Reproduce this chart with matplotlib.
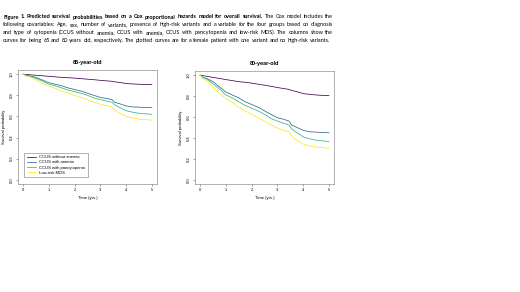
import numpy as np
import matplotlib.pyplot as plt

# time grid (years)
times = [0, 0.1, 0.25, 0.5, 0.75, 1.0, 1.25, 1.5, 1.75, 2.0, 2.25, 2.5, 2.75,
         3.0, 3.25, 3.45, 3.55, 3.75, 4.0, 4.25, 4.5, 4.75, 5.0]

groups = ["CCUS without anemia", "CCUS with anemia", "CCUS with pancytopenia", "Low-risk MDS"]
colors = ["#440154", "#31688e", "#35b779", "#fde725"]

# 65-year-old
s65_no_anemia = [1, 0.998, 0.995, 0.99, 0.985, 0.98, 0.975, 0.97, 0.967, 0.963, 0.958, 0.953, 0.948,
                 0.942, 0.937, 0.933, 0.928, 0.922, 0.912, 0.908, 0.905, 0.903, 0.902]
s65_anemia = [1, 0.99, 0.985, 0.97, 0.945, 0.92, 0.905, 0.89, 0.87, 0.855, 0.84, 0.82, 0.80,
              0.78, 0.77, 0.76, 0.735, 0.72, 0.70, 0.69, 0.688, 0.685, 0.683]
s65_pancyto = [1, 0.99, 0.982, 0.96, 0.935, 0.905, 0.89, 0.87, 0.85, 0.835, 0.82, 0.80, 0.775,
               0.76, 0.745, 0.735, 0.71, 0.685, 0.655, 0.64, 0.63, 0.625, 0.62]
s65_mds = [1, 0.985, 0.975, 0.945, 0.915, 0.885, 0.865, 0.84, 0.82, 0.80, 0.78, 0.76, 0.735,
           0.715, 0.70, 0.69, 0.66, 0.63, 0.60, 0.585, 0.575, 0.57, 0.565]

# 80-year-old
s80_no_anemia = [1, 0.996, 0.99, 0.979, 0.969, 0.958, 0.948, 0.938, 0.932, 0.924, 0.914, 0.904, 0.894,
                 0.882, 0.872, 0.864, 0.855, 0.843, 0.824, 0.817, 0.811, 0.807, 0.805]
s80_anemia = [1, 0.979, 0.969, 0.938, 0.888, 0.839, 0.811, 0.783, 0.746, 0.72, 0.694, 0.659, 0.626,
              0.594, 0.578, 0.562, 0.524, 0.502, 0.473, 0.459, 0.456, 0.452, 0.449]
s80_pancyto = [1, 0.979, 0.963, 0.918, 0.869, 0.811, 0.783, 0.746, 0.711, 0.685, 0.659, 0.626, 0.586,
               0.562, 0.539, 0.524, 0.487, 0.452, 0.411, 0.392, 0.379, 0.373, 0.366]
s80_mds = [1, 0.969, 0.948, 0.888, 0.83, 0.774, 0.738, 0.694, 0.659, 0.626, 0.594, 0.562, 0.524,
           0.494, 0.473, 0.459, 0.418, 0.379, 0.342, 0.324, 0.313, 0.307, 0.302]

panels = [("65-year-old", [s65_no_anemia, s65_anemia, s65_pancyto, s65_mds]),
          ("80-year-old", [s80_no_anemia, s80_anemia, s80_pancyto, s80_mds])]

caption_bold = "Figure 1. Predicted survival probabilities based on a Cox proportional hazards model for overall survival."
caption_lines = ["The Cox model includes the",
                 "following covariables: Age, sex, number of variants, presence of high-risk variants and a variable for the four groups based on diagnosis",
                 "and type of cytopenia (CCUS without anemia, CCUS with anemia, CCUS with pancytopenia and low-risk MDS). The columns show the",
                 "curves for being 65 and 80 years old, respectively. The plotted curves are for a female patient with one variant and no high-risk variants."]

W, H = 520, 292
fig = plt.figure(figsize=(W / 100, H / 100), dpi=100)
renderer = fig.canvas.get_renderer()

cap_font = ['Lato', 'DejaVu Sans']
left_px, right_px = 3, 333
top_px, step_px = 17, 7.7


def text_w(s, fs, bold=False):
    t = fig.text(0, 0, s, fontsize=fs, family=cap_font, fontweight='bold' if bold else 'normal')
    w = t.get_window_extent(renderer).width
    t.remove()
    return w


# size the caption so the last (not justified) line spans the same width as the reference
cap_fs = 4 * (right_px - 2 - left_px) / text_w(caption_lines[3], 4)


def put_line(bold_words, words, y, justify):
    # right end of every word measured from the whole prefix, then spread for justification
    ends = []
    for j in range(len(bold_words)):
        ends.append(text_w(" ".join(bold_words[:j + 1]), cap_fs, True))
    wb = ends[-1] if ends else 0
    for k in range(len(words)):
        if bold_words:
            ends.append(wb + text_w("i " + " ".join(words[:k + 1]), cap_fs) - text_w("i", cap_fs))
        else:
            ends.append(text_w(" ".join(words[:k + 1]), cap_fs))
    allw = [(w, True) for w in bold_words] + [(w, False) for w in words]
    extra = 0
    if justify:
        extra = (right_px - left_px - ends[-1]) / (len(allw) - 1)
    for j, ((w, b), e) in enumerate(zip(allw, ends)):
        fig.text((left_px + e + extra * j) / W, y, w, fontsize=cap_fs, family=cap_font,
                 va='center', ha='right', fontweight='bold' if b else 'normal')


for i in range(4):
    y = 1 - (top_px + i * step_px) / H
    if i == 0:
        put_line(caption_bold.split(), caption_lines[0].split(), y, True)
    else:
        put_line([], caption_lines[i].split(), y, i < 3)

plt.rcParams['font.family'] = ['Liberation Sans', 'DejaVu Sans']

boxes = [(18, 70, 157, 184), (195, 71, 334, 184)]
for (title, series), (l, t, r, b) in zip(panels, boxes):
    ax = fig.add_axes([l / W, 1 - b / H, (r - l) / W, (b - t) / H])
    for s, c, g in zip(series, colors, groups):
        ax.plot(times, s, color=c, lw=0.55, label=g)
    ax.set_xlim(-0.2, 5.2)
    ax.set_ylim(-0.04, 1.04)
    ax.set_xticks(range(6))
    ax.set_yticks(np.arange(0, 1.01, 0.2))
    ax.set_yticklabels([f"{v:.1f}" for v in np.arange(0, 1.01, 0.2)], rotation=90, va='center')
    ax.tick_params(labelsize=3, length=1.5, width=0.4, pad=1.5, color='#555555')
    for sp in ax.spines.values():
        sp.set_linewidth(0.4)
        sp.set_color('#777777')
    ax.set_title(title, fontsize=4, fontweight='bold', pad=4)
    ax.set_xlabel("Time (yrs.)", fontsize=3, labelpad=3)
    ax.set_ylabel("Survival probability", fontsize=3, labelpad=3)
    if title.startswith("65"):
        leg = ax.legend(loc='lower left', bbox_to_anchor=(0.03, 0.04), fontsize=3,
                        frameon=True, fancybox=False, handlelength=2.2, borderpad=0.6,
                        labelspacing=0.3, edgecolor='#555555')
        leg.get_frame().set_linewidth(0.4)

fig.savefig("out.png", dpi=100)
